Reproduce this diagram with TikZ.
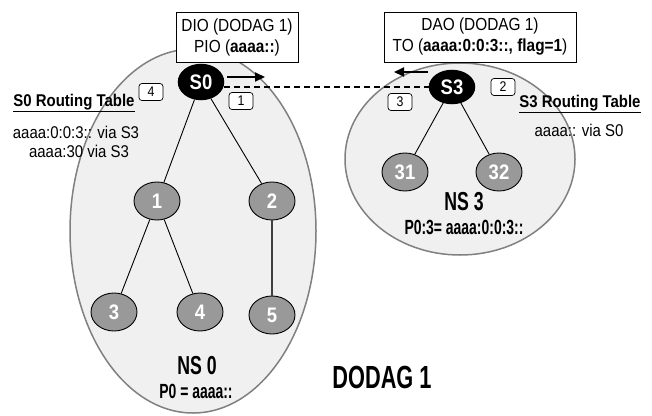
\documentclass[tikz,border=0pt]{standalone}
\usepackage{fontspec}
\setmainfont{Liberation Sans}[FakeStretch=0.88]
\newfontfamily\cbf{Liberation Sans}[FakeStretch=0.68]
\usetikzlibrary{shapes.geometric,arrows.meta}
\begin{document}
\begin{tikzpicture}[x=1pt,y=-1pt,
  region/.style={draw=black!50, line width=1.5pt, fill=gray!12},
  sink/.style={ellipse, draw=black, line width=1.5pt, fill=black, text=white,
    minimum width=45pt, minimum height=35pt, inner sep=0pt,
    font=\bfseries\fontsize{21}{21}\selectfont},
  mote/.style={ellipse, draw=black, line width=0.9pt, fill=gray!80, text=white,
    minimum width=46pt, minimum height=38pt, inner sep=0pt,
    font=\bfseries\fontsize{21}{21}\selectfont},
  msg/.style={draw=black, fill=white, line width=0.8pt, align=center,
    inner sep=0pt, font=\fontsize{17.5}{21}\selectfont},
  num/.style={draw=black, rounded corners=3pt, fill=white, line width=0.7pt,
    minimum width=24pt, minimum height=17pt, inner sep=0pt,
    font=\fontsize{14}{14}\selectfont},
  txt/.style={inner sep=0pt, font=\fontsize{17}{19}\selectfont},
  head/.style={inner sep=0pt, font=\bfseries\fontsize{17}{19}\selectfont},
  nslabel/.style={inner sep=0pt, font=\cbf\bfseries\fontsize{26}{26}\selectfont},
  pfx/.style={inner sep=0pt, font=\cbf\bfseries\fontsize{20.5}{20.5}\selectfont},
  edge/.style={draw=black, line width=0.9pt},
  flow/.style={draw=black, line width=2pt, -{Triangle[length=10pt,width=9pt]}},
  link/.style={draw=black, line width=1.6pt, dash pattern=on 6pt off 4pt}
]
\useasboundingbox (0,0) rectangle (652,415);

% regions
\draw[region] (193,231) ellipse [x radius=123, y radius=182];
\draw[region] (460,159) ellipse [x radius=115, y radius=96];

% message boxes
\node[msg, minimum width=122pt, minimum height=50pt] (dio) at (237,37)
  {DIO (DODAG 1)\\PIO (\textbf{aaaa::})};
\node[msg, minimum width=192pt, minimum height=50pt] (dao) at (480,37)
  {DAO (DODAG 1)\\TO (\textbf{aaaa:0:0:3::, flag=1})};

% nodes
\node[sink] (S0) at (201,82) {S0};
\node[sink, minimum height=33pt] (S3) at (452,87) {S3};
\node[mote] (n1) at (157,201) {1};
\node[mote] (n2) at (272,201) {2};
\node[mote] (n3) at (114,312) {3};
\node[mote] (n4) at (200,312) {4};
\node[mote] (n5) at (272,315) {5};
\node[mote] (n31) at (405,172) {31};
\node[mote] (n32) at (499,172) {32};

% tree edges
\draw[edge] (S0) -- (n1);
\draw[edge] (S0) -- (n2);
\draw[edge] (n1) -- (n3);
\draw[edge] (n1) -- (n4);
\draw[draw=black!75, line width=1.3pt] (n2) -- (n5);
\draw[edge] (S3) -- (n31);
\draw[edge] (S3) -- (n32);

% link between sinks
\draw[link] (S0.east |- S3.west) -- (S3.west);

% message direction arrows
\coordinate (a1s) at (227,77);
\coordinate (a1e) at (265,77);
\coordinate (a2s) at (428,72);
\coordinate (a2e) at (394,72);
\draw[flow] (a1s) -- (a1e);
\draw[flow] (a2s) -- (a2e);

% step numbers
\node[num] (k1) at (241,101) {1};
\node[num] (k2) at (503,87) {2};
\node[num] (k3) at (400,102) {3};
\node[num] (k4) at (151,92) {4};

% routing tables
\node[head] (rt0) at (74,103) {\underline{S0 Routing Table}};
\node[txt] (rt0a) at (76,132) {aaaa:0:0:3:: via S3};
\node[txt] (rt0b) at (79,151) {aaaa:30 via S3};
\node[head] (rt3) at (580,104) {\underline{S3 Routing Table}};
\node[txt] (rt3a) at (579,130) {aaaa:: via S0};

% subnet labels
\node[nslabel] (ns0) at (197,366) {NS 0};
\node[pfx] (p0) at (196,391) {P0 = aaaa::};
\node[nslabel] (ns3) at (464,202) {NS 3};
\node[pfx] (p3) at (464,227) {P0:3= aaaa:0:0:3::};
\node[nslabel, font=\cbf\bfseries\fontsize{32}{32}\selectfont] (dg) at (382,377) {DODAG 1};
\end{tikzpicture}
\end{document}
